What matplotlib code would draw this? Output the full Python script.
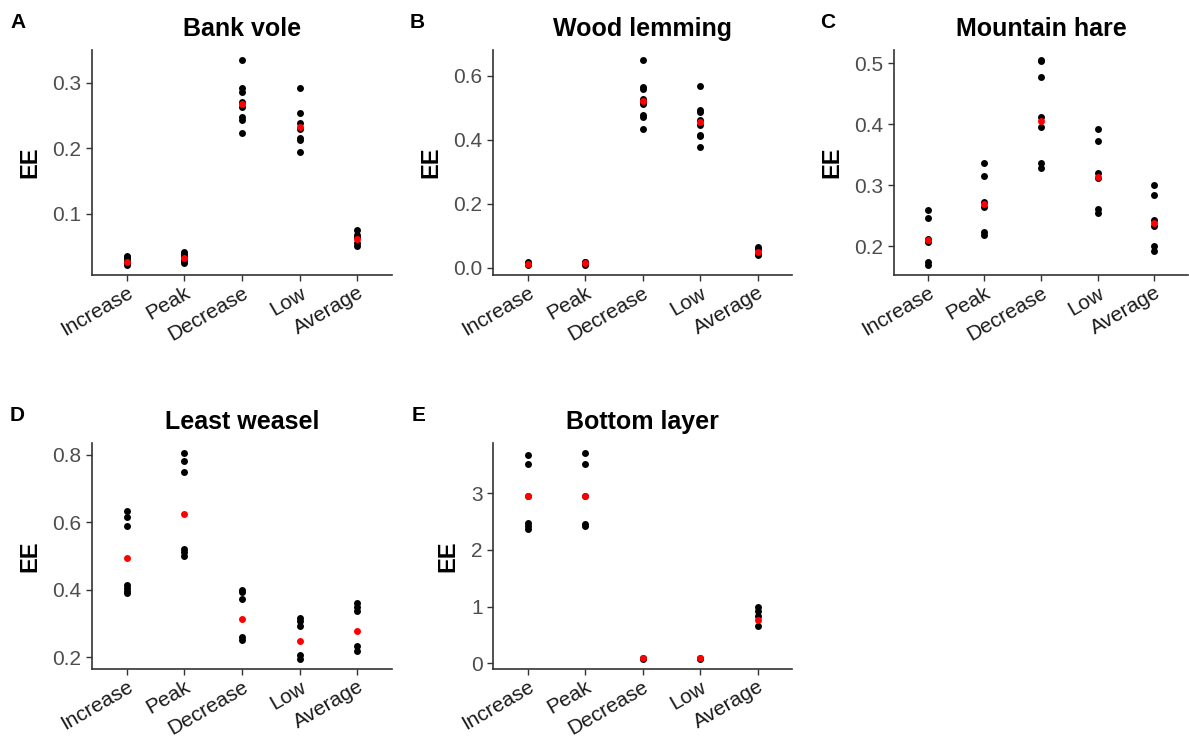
import numpy as np
import matplotlib
matplotlib.use('Agg')
import matplotlib.pyplot as plt

plt.rcParams['font.family'] = ['Liberation Sans', 'DejaVu Sans']

# categories on the x axis
phases = ['Increase', 'Peak', 'Decrease', 'Low', 'Average']

# A - Bank vole
vole_pts = [[0.022, 0.025, 0.028, 0.031, 0.034, 0.035],
            [0.024, 0.027, 0.030, 0.035, 0.038, 0.041],
            [0.334, 0.291, 0.286, 0.270, 0.262, 0.247, 0.243, 0.223],
            [0.291, 0.254, 0.238, 0.229, 0.216, 0.213, 0.194],
            [0.075, 0.068, 0.064, 0.055, 0.050]]
vole_mean = [0.026, 0.032, 0.267, 0.232, 0.061]

# B - Wood lemming
lemming_pts = [[0.010, 0.012, 0.016, 0.018],
               [0.010, 0.013, 0.018, 0.020],
               [0.648, 0.563, 0.558, 0.527, 0.517, 0.510, 0.478, 0.470, 0.432],
               [0.567, 0.494, 0.488, 0.463, 0.445, 0.416, 0.411, 0.376],
               [0.065, 0.058, 0.045, 0.039]]
lemming_mean = [0.013, 0.015, 0.520, 0.454, 0.049]

# C - Mountain hare
hare_pts = [[0.260, 0.247, 0.212, 0.207, 0.174, 0.170],
            [0.336, 0.316, 0.273, 0.265, 0.223, 0.219],
            [0.505, 0.503, 0.478, 0.412, 0.396, 0.336, 0.329],
            [0.392, 0.373, 0.320, 0.312, 0.262, 0.255],
            [0.300, 0.284, 0.243, 0.234, 0.200, 0.193]]
hare_mean = [0.210, 0.270, 0.405, 0.314, 0.239]

# D - Least weasel
weasel_pts = [[0.633, 0.614, 0.590, 0.413, 0.404, 0.397, 0.390],
              [0.804, 0.781, 0.749, 0.521, 0.511, 0.501],
              [0.400, 0.394, 0.374, 0.260, 0.250],
              [0.316, 0.307, 0.292, 0.206, 0.196],
              [0.362, 0.350, 0.338, 0.235, 0.220]]
weasel_mean = [0.493, 0.624, 0.313, 0.247, 0.278]

# E - Bottom layer
bottom_pts = [[3.67, 3.51, 2.94, 2.48, 2.42, 2.36],
              [3.70, 3.51, 2.95, 2.46, 2.41],
              [0.08, 0.10],
              [0.08, 0.10],
              [0.99, 0.92, 0.83, 0.65]]
bottom_mean = [2.95, 2.95, 0.093, 0.093, 0.77]

panels = [
    ('A', 'Bank vole', vole_pts, vole_mean, [0.1, 0.2, 0.3], ['0.1', '0.2', '0.3']),
    ('B', 'Wood lemming', lemming_pts, lemming_mean, [0.0, 0.2, 0.4, 0.6], ['0.0', '0.2', '0.4', '0.6']),
    ('C', 'Mountain hare', hare_pts, hare_mean, [0.2, 0.3, 0.4, 0.5], ['0.2', '0.3', '0.4', '0.5']),
    ('D', 'Least weasel', weasel_pts, weasel_mean, [0.2, 0.4, 0.6, 0.8], ['0.2', '0.4', '0.6', '0.8']),
    ('E', 'Bottom layer', bottom_pts, bottom_mean, [0, 1, 2, 3], ['0', '1', '2', '3']),
]

W, H = 1189, 740
fig = plt.figure(figsize=(W / 100, H / 100), dpi=100)

# axes boxes in pixels: left, top, right, bottom
boxes = [(92, 50, 392, 275), (493, 50, 792, 275), (894, 50, 1188, 275),
         (92, 443, 392, 669), (493, 443, 792, 669)]
letter_xy = [(10, 22), (410, 22), (820, 22), (10, 415), (412, 415)]

for i, (letter, title, pts, mean, yt, ytl) in enumerate(panels):
    l, t, r, b = boxes[i]
    ax = fig.add_axes([l / W, 1 - b / H, (r - l) / W, (b - t) / H])
    for j, vals in enumerate(pts):
        ax.plot([j] * len(vals), vals, 'o', color='black', markersize=5, markeredgewidth=0)
    ax.plot(range(len(phases)), mean, 'o', color='#FF0000', markersize=5, markeredgewidth=0)

    ax.set_xlim(-0.6, len(phases) - 0.4)
    ax.margins(y=0.05)
    ax.set_xticks(range(len(phases)))
    ax.set_xticklabels(phases, rotation=30, ha='right', va='top',
                       rotation_mode='anchor', color='#1a1a1a', fontsize=15)
    ax.set_yticks(yt)
    ax.set_yticklabels(ytl, fontsize=15)
    ax.tick_params(color='#333333', length=4, width=1)
    ax.tick_params(axis='y', labelcolor='#4D4D4D')
    ax.tick_params(axis='x', pad=2)
    ax.set_ylabel('EE', fontsize=17, fontweight='bold', labelpad=8)
    ax.set_title(title, fontsize=18, fontweight='bold', pad=10)
    for s in ['top', 'right']:
        ax.spines[s].set_visible(False)
    for s in ['left', 'bottom']:
        ax.spines[s].set_color('#333333')
        ax.spines[s].set_linewidth(1.2)

    lx, ly = letter_xy[i]
    fig.text(lx / W, 1 - ly / H, letter, fontsize=15, fontweight='bold', va='center', ha='left')

fig.savefig('out.png', dpi=100)
